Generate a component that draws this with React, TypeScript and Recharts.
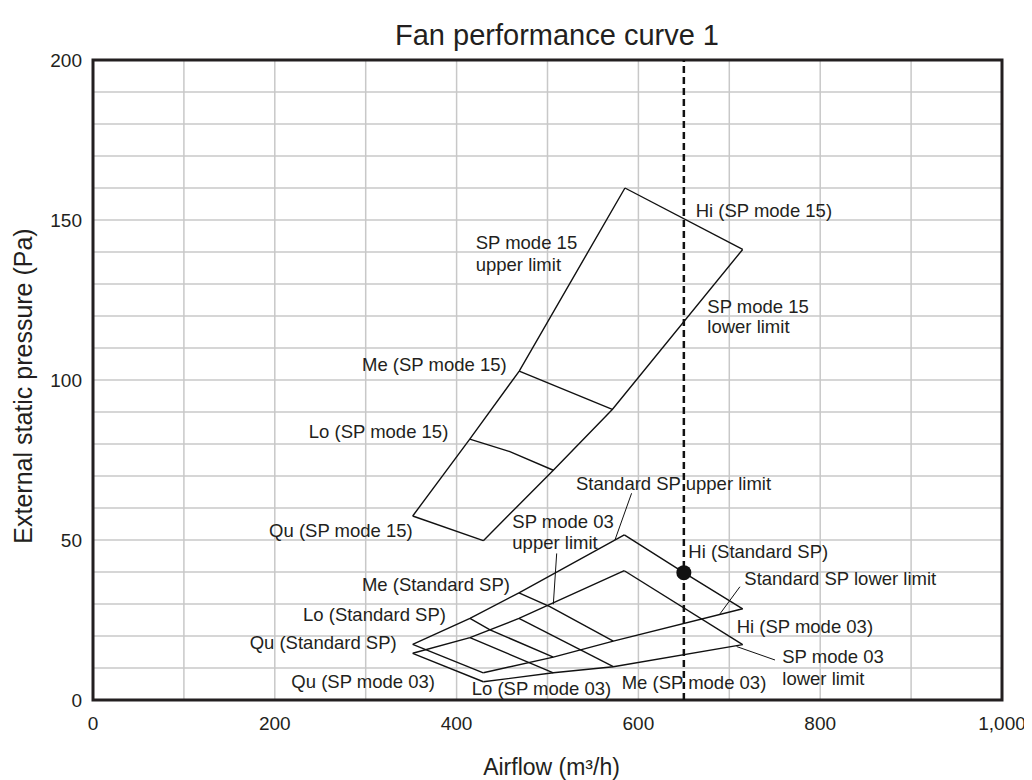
import React from 'react';
import {
  ComposedChart,
  Line,
  Scatter,
  XAxis,
  YAxis,
  CartesianGrid,
  ReferenceLine,
  ReferenceArea,
} from 'recharts';

const FONT = '"Liberation Sans", Arial, Helvetica, sans-serif';
const INK = '#231f20';

// Axis ticks
const xTicks = [0, 100, 200, 300, 400, 500, 600, 700, 800, 900, 1000];
const yTicks = [0, 10, 20, 30, 40, 50, 60, 70, 80, 90, 100, 110, 120, 130, 140, 150, 160, 170, 180, 190, 200];

// SP mode 15 region (airflow m3/h, pressure Pa)
const sp15Upper = [
  { x: 351.7, y: 57.5 },
  { x: 414.5, y: 81.5 },
  { x: 468.9, y: 102.8 },
  { x: 585.2, y: 160 },
];
const sp15Hi = [
  { x: 585.2, y: 160 },
  { x: 714.7, y: 140.8 },
];
const sp15Lower = [
  { x: 714.7, y: 140.8 },
  { x: 571.3, y: 90.8 },
  { x: 506.4, y: 71.8 },
  { x: 429.4, y: 49.8 },
];
const sp15Qu = [
  { x: 351.7, y: 57.5 },
  { x: 429.4, y: 49.8 },
];
const sp15Lo = [
  { x: 414.5, y: 81.5 },
  { x: 458.6, y: 77.6 },
  { x: 506.4, y: 71.8 },
];
const sp15Me = [
  { x: 468.9, y: 102.8 },
  { x: 571.3, y: 90.8 },
];

// Standard SP region
const stdUpper = [
  { x: 351.7, y: 17.4 },
  { x: 414.7, y: 25.5 },
  { x: 468.6, y: 33.5 },
  { x: 584.5, y: 51.6 },
];
const stdHi = [
  { x: 584.5, y: 51.6 },
  { x: 650, y: 39.8 },
  { x: 714.7, y: 28.5 },
];
const stdLower = [
  { x: 714.7, y: 28.5 },
  { x: 572.4, y: 18.4 },
  { x: 506.4, y: 13.4 },
  { x: 429.4, y: 8.5 },
];
const stdQu = [
  { x: 351.7, y: 17.4 },
  { x: 429.4, y: 8.5 },
];
const stdLo = [
  { x: 414.7, y: 25.5 },
  { x: 436.8, y: 21.9 },
  { x: 506.4, y: 13.4 },
];
const stdMe = [
  { x: 468.6, y: 33.5 },
  { x: 502.6, y: 29.2 },
  { x: 572.4, y: 18.4 },
];

// SP mode 03 region
const m03Upper = [
  { x: 351.7, y: 14.6 },
  { x: 414.7, y: 19.5 },
  { x: 468.6, y: 25.5 },
  { x: 584.5, y: 40.4 },
];
const m03Hi = [
  { x: 584.5, y: 40.4 },
  { x: 714.7, y: 17.3 },
];
const m03Lower = [
  { x: 714.7, y: 17.3 },
  { x: 572.4, y: 10.4 },
  { x: 506.4, y: 8.5 },
  { x: 429.4, y: 5.7 },
];
const m03Qu = [
  { x: 351.7, y: 14.6 },
  { x: 429.4, y: 5.7 },
];
const m03Lo = [
  { x: 414.7, y: 19.5 },
  { x: 477.1, y: 12.0 },
  { x: 506.4, y: 8.5 },
];
const m03Me = [
  { x: 468.6, y: 25.5 },
  { x: 572.4, y: 10.4 },
];

// Leader lines from labels to curves
const leaderStdUpper = [
  { x: 592.5, y: 64.6 },
  { x: 574.2, y: 50.0 },
];
const leader03Upper = [
  { x: 510.1, y: 45.8 },
  { x: 506.4, y: 29.9 },
];
const leaderStdLower = [
  { x: 711.7, y: 35.4 },
  { x: 689.7, y: 26.9 },
];
const leader03Lower = [
  { x: 750.3, y: 12.5 },
  { x: 708.1, y: 16.7 },
];

// Rated airflow and Hi (Standard SP) point
const ratedAirflow = 650;
const hiStandardPoint = [{ x: 650, y: 39.8 }];

// Text annotations (data coordinates)
const annotations = [
  { text: 'Hi (SP mode 15)', x: 663, y: 153.1, anchor: 'start' },
  { text: 'SP mode 15', x: 421, y: 142.9, anchor: 'start' },
  { text: 'upper limit', x: 421, y: 136.0, anchor: 'start' },
  { text: 'SP mode 15', x: 675.8, y: 123.1, anchor: 'start' },
  { text: 'lower limit', x: 675.8, y: 116.7, anchor: 'start' },
  { text: 'Me (SP mode 15)', x: 455.1, y: 104.9, anchor: 'end' },
  { text: 'Lo (SP mode 15)', x: 390.9, y: 83.8, anchor: 'end' },
  { text: 'Qu (SP mode 15)', x: 351.7, y: 52.9, anchor: 'end' },
  { text: 'Standard SP upper limit', x: 531.4, y: 67.7, anchor: 'start' },
  { text: 'SP mode 03', x: 461.3, y: 55.7, anchor: 'start' },
  { text: 'upper limit', x: 461.3, y: 49.2, anchor: 'start' },
  { text: 'Hi (Standard SP)', x: 654.9, y: 46.3, anchor: 'start' },
  { text: 'Standard SP lower limit', x: 716.5, y: 38.0, anchor: 'start' },
  { text: 'Me (Standard SP)', x: 458.7, y: 36.25, anchor: 'end' },
  { text: 'Lo (Standard SP)', x: 388.3, y: 26.6, anchor: 'end' },
  { text: 'Qu (Standard SP)', x: 334.1, y: 17.9, anchor: 'end' },
  { text: 'Hi (SP mode 03)', x: 708.1, y: 22.9, anchor: 'start' },
  { text: 'SP mode 03', x: 758.3, y: 13.5, anchor: 'start' },
  { text: 'lower limit', x: 758.3, y: 6.6, anchor: 'start' },
  { text: 'Qu (SP mode 03)', x: 376.2, y: 5.7, anchor: 'end' },
  { text: 'Lo (SP mode 03)', x: 416.6, y: 3.6, anchor: 'start' },
  { text: 'Me (SP mode 03)', x: 581.6, y: 5.5, anchor: 'start' },
];

const curveLines = [
  sp15Upper, sp15Hi, sp15Lower, sp15Qu, sp15Lo, sp15Me,
  stdUpper, stdHi, stdLower, stdQu, stdLo, stdMe,
  m03Upper, m03Hi, m03Lower, m03Qu, m03Lo, m03Me,
];
const leaderLines = [leaderStdUpper, leader03Upper, leaderStdLower, leader03Lower];

const W = 1024;
const H = 772;

const XTitle = (props: any) => {
  const vb = props.viewBox;
  return (
    <text
      x={vb.x + vb.width / 2 + 4}
      y={vb.y + 67}
      textAnchor="middle"
      dominantBaseline="central"
      fontFamily={FONT}
      fontSize={23}
      fill={INK}
    >
      Airflow (m³/h)
    </text>
  );
};

const YTitle = (props: any) => {
  const vb = props.viewBox;
  const cx = vb.x + 15;
  const cy = vb.y + vb.height / 2 + 6;
  return (
    <text
      x={cx}
      y={cy}
      transform={`rotate(-90 ${cx} ${cy})`}
      textAnchor="middle"
      dominantBaseline="central"
      fontFamily={FONT}
      fontSize={25}
      fill={INK}
    >
      External static pressure (Pa)
    </text>
  );
};

export default function App() {
  return (
    <div style={{ position: 'relative', width: W, height: H, fontFamily: FONT }}>
      <div
        style={{
          position: 'absolute',
          left: 249,
          top: 13,
          width: 600,
          textAlign: 'center',
          fontSize: 29,
          lineHeight: '29px',
          color: INK,
          fontFamily: FONT,
        }}
      >
        Fan performance curve 1
      </div>
      <ComposedChart width={W} height={H} margin={{ top: 52, right: 30, bottom: 40, left: 0 }}>
        <CartesianGrid stroke="#c8c8c8" strokeWidth={1.5} />
        <XAxis
          type="number"
          dataKey="x"
          domain={[0, 1000]}
          ticks={xTicks}
          allowDataOverflow
          height={40}
          axisLine={false}
          tickLine={false}
          tickSize={0}
          tickMargin={17}
          interval={0}
          tick={{ fontSize: 19, fill: INK, fontFamily: FONT }}
          tickFormatter={(v: number) => (v % 200 === 0 ? v.toLocaleString('en-US') : '')}
          label={{ content: XTitle }}
        />
        <YAxis
          type="number"
          dataKey="y"
          domain={[0, 200]}
          ticks={yTicks}
          allowDataOverflow
          width={85}
          axisLine={false}
          tickLine={false}
          tickSize={0}
          tickMargin={11}
          interval={0}
          tick={{ fontSize: 19, fill: INK, fontFamily: FONT }}
          tickFormatter={(v: number) => (v % 50 === 0 ? String(v) : '')}
          label={{ content: YTitle }}
        />
        {curveLines.map((d, i) => (
          <Line
            key={'c' + i}
            data={d}
            dataKey="y"
            type="linear"
            stroke="#111"
            strokeWidth={1.4}
            dot={false}
            activeDot={false}
            isAnimationActive={false}
            legendType="none"
          />
        ))}
        {leaderLines.map((d, i) => (
          <Line
            key={'l' + i}
            data={d}
            dataKey="y"
            type="linear"
            stroke="#111"
            strokeWidth={1}
            dot={false}
            activeDot={false}
            isAnimationActive={false}
            legendType="none"
          />
        ))}
        <ReferenceLine x={ratedAirflow} stroke="#111" strokeWidth={2.5} strokeDasharray="7 4" />
        <Scatter
          data={hiStandardPoint}
          isAnimationActive={false}
          legendType="none"
          shape={(p: any) => <circle cx={p.cx} cy={p.cy} r={7.5} fill="#111" />}
        />
        <Scatter
          data={annotations}
          isAnimationActive={false}
          legendType="none"
          shape={(p: any) => (
            <text
              x={p.cx}
              y={p.cy}
              textAnchor={p.payload.anchor}
              dominantBaseline="central"
              fontFamily={FONT}
              fontSize={18.5}
              fill={INK}
            >
              {p.payload.text}
            </text>
          )}
        />
        <ReferenceArea
          x1={0}
          x2={1000}
          y1={0}
          y2={200}
          fill="none"
          fillOpacity={0}
          stroke={INK}
          strokeWidth={3}
          ifOverflow="visible"
        />
      </ComposedChart>
    </div>
  );
}
